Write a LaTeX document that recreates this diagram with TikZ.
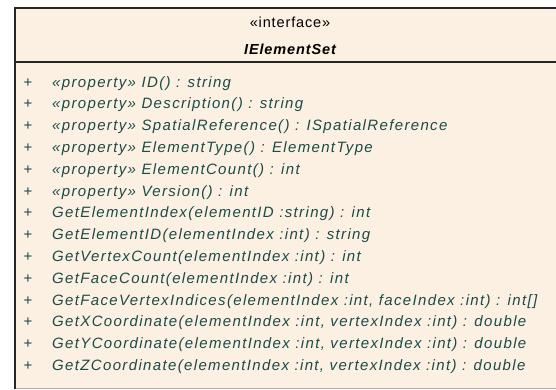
\documentclass[tikz,border=0pt]{standalone}
\usepackage{fontspec}
\setmainfont{Liberation Sans}
\newfontfamily\umlfont{Liberation Sans}[LetterSpace=9]
\newfontfamily\hdrfont{Liberation Sans}[LetterSpace=6]
\definecolor{boxfill}{HTML}{FBF0E2}
\definecolor{txt}{HTML}{1B4B49}
\definecolor{bottomgray}{HTML}{B0B0B0}
\tikzset{
  vis/.style={anchor=base, inner sep=0pt, text=txt, font=\umlfont\fontsize{15}{18}\selectfont},
  member/.style={anchor=base west, inner sep=0pt, text=txt, font=\umlfont\fontsize{15}{18}\selectfont\itshape},
  hdr/.style={anchor=base, inner sep=0pt, text=black, font=\hdrfont\fontsize{14.5}{17}\selectfont},
}
\begin{document}
\begin{tikzpicture}[x=1pt,y=-1pt]
\useasboundingbox (0,0) rectangle (556,389);
\fill[boxfill] (14,7.5) rectangle (580,388);
\draw[bottomgray, line width=1pt] (14,388) -- (580,388);
\draw[black!85, line width=2pt] (14.5,389) -- (14.5,7.5) -- (580,7.5);
\draw[black!85, line width=2pt] (14,62) -- (580,62);
\node[hdr] (stereo) at (290,27) {«interface»};
\node[hdr, font=\hdrfont\fontsize{14.5}{17}\selectfont\bfseries\itshape] (name) at (290,54.5) {IElementSet};
\foreach \i/\t in {
 1/{«property» ID() : string},
 2/{«property» Description() : string},
 3/{«property» SpatialReference() : ISpatialReference},
 4/{«property» ElementType() : ElementType},
 5/{«property» ElementCount() : int},
 6/{«property» Version() : int},
 7/{GetElementIndex(elementID :string) : int},
 8/{GetElementID(elementIndex :int) : string},
 9/{GetVertexCount(elementIndex :int) : int},
 10/{GetFaceCount(elementIndex :int) : int},
 11/{GetFaceVertexIndices(elementIndex :int, faceIndex :int) : int[]},
 12/{GetXCoordinate(elementIndex :int, vertexIndex :int) : double},
 13/{GetYCoordinate(elementIndex :int, vertexIndex :int) : double},
 14/{GetZCoordinate(elementIndex :int, vertexIndex :int) : double}}
{
  \pgfmathsetmacro{\yy}{87+(\i-1)*21.8}
  \node[vis] (vis\i) at (28,\yy) {+};
  \node[member] (m\i) at (52,\yy) {\t};
}
\end{tikzpicture}
\end{document}
